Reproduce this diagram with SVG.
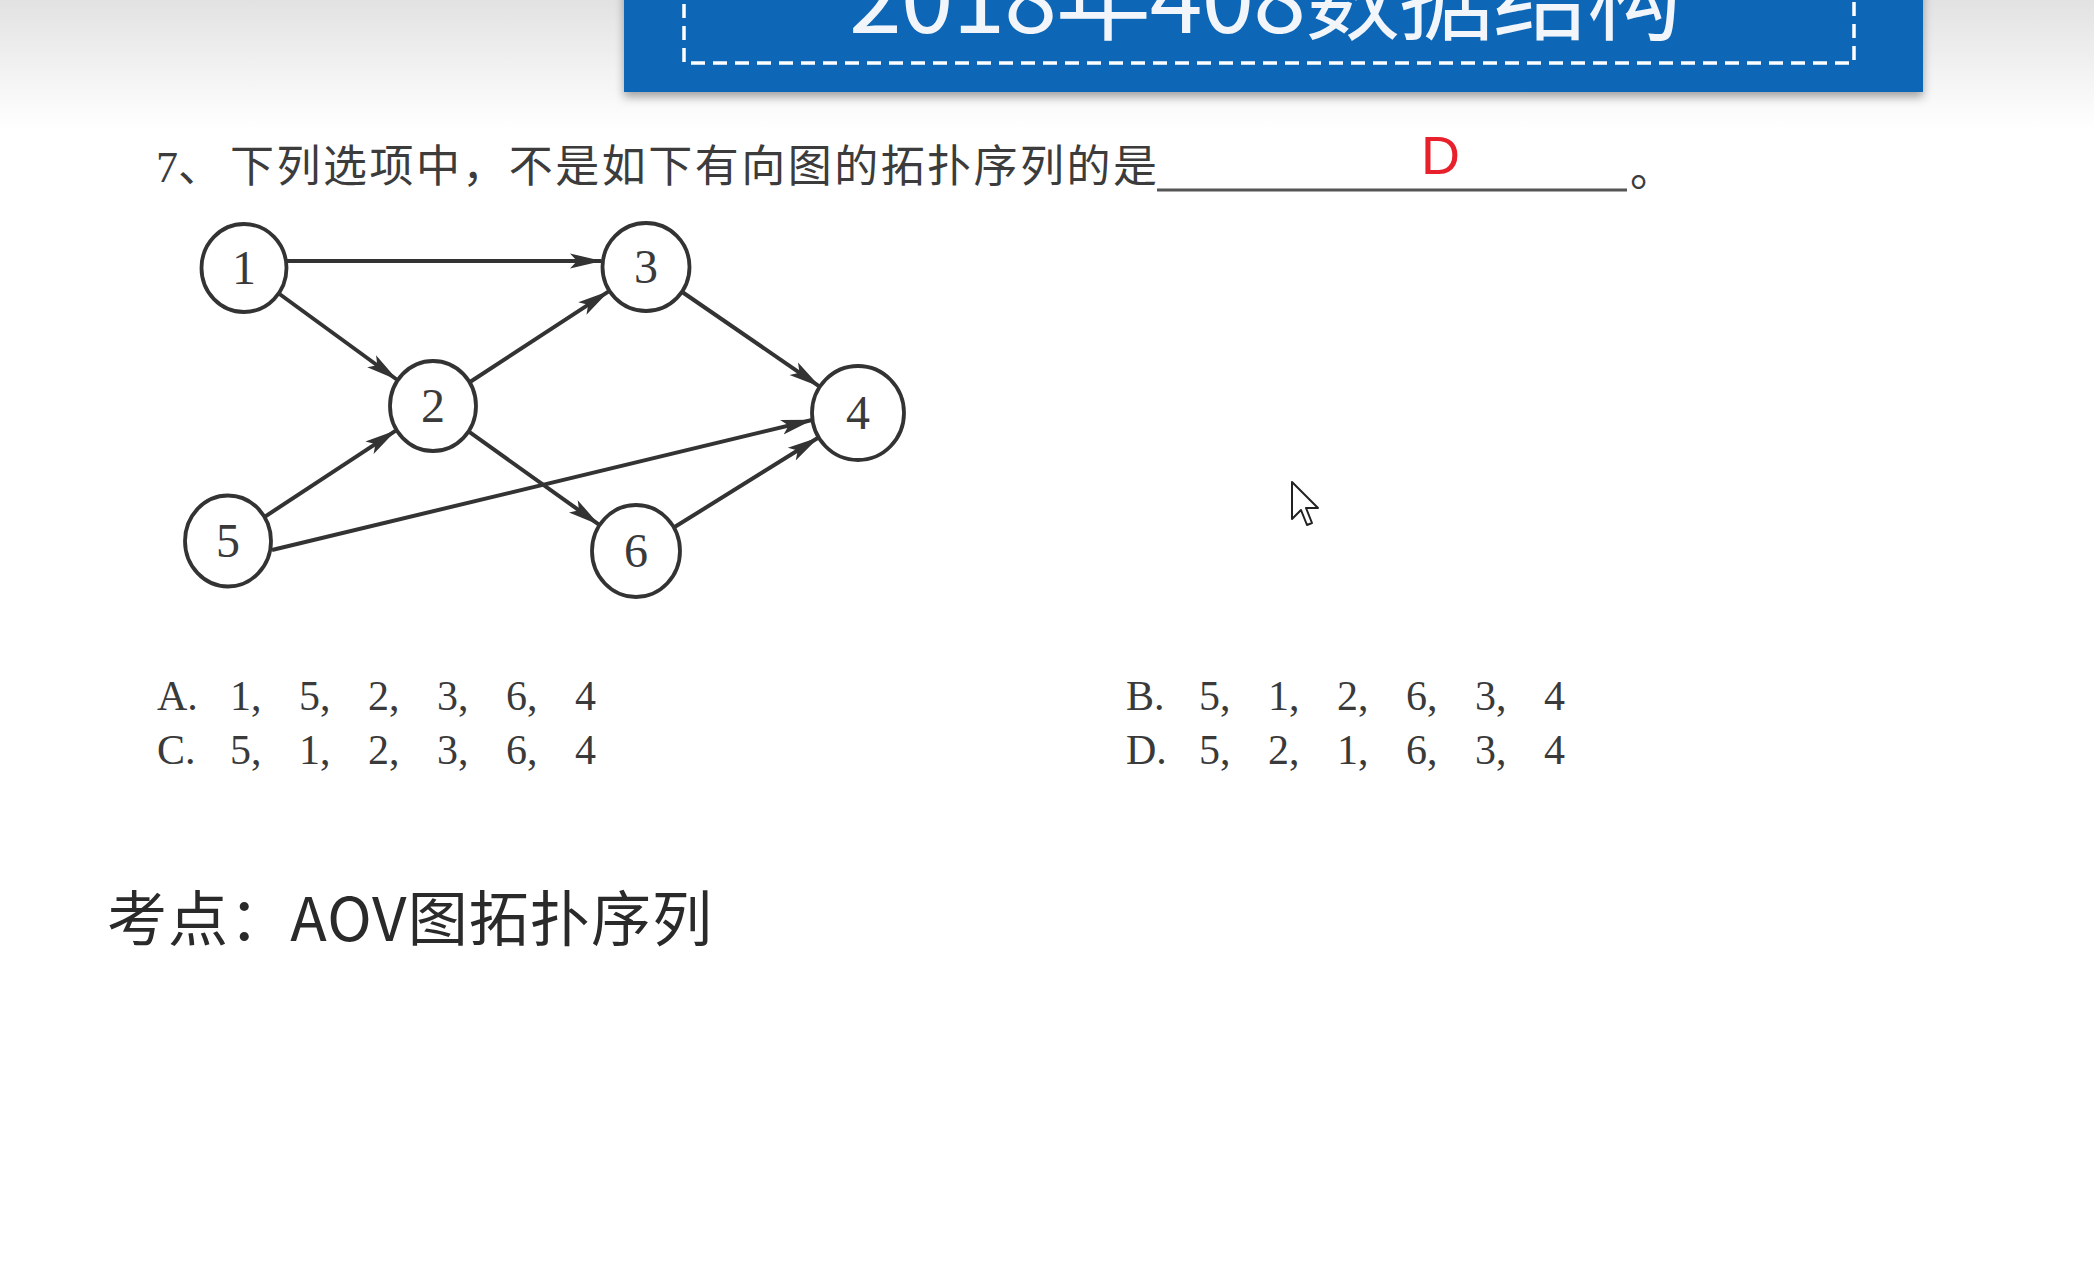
<svg xmlns="http://www.w3.org/2000/svg" width="2094" height="1275" viewBox="0 0 2094 1275">
  <defs>
    <linearGradient id="topfade" x1="0" y1="0" x2="0" y2="1">
      <stop offset="0" stop-color="#e2e2e2"/>
      <stop offset="0.6" stop-color="#f4f4f4"/>
      <stop offset="1" stop-color="#ffffff"/>
    </linearGradient>
    <filter id="shadow" x="-5%" y="-50%" width="110%" height="200%">
      <feDropShadow dx="0" dy="5" stdDeviation="5" flood-color="#000" flood-opacity="0.35"/>
    </filter>
    <marker id="arrow" viewBox="0 0 32 18" markerWidth="32" markerHeight="18" refX="31" refY="9" orient="auto" markerUnits="userSpaceOnUse">
      <path d="M0,1.5 L32,9 L0,16.5 L7,9 Z" fill="#333"/>
    </marker>
    <style>
      .node ellipse { fill: #ffffff; stroke: #333; stroke-width: 3.8; }
      .node text { font-family: "Liberation Serif", serif; font-size: 48px; fill: #3a3a3a; text-anchor: middle; }
      .edge { stroke: #333; stroke-width: 4; fill: none; marker-end: url(#arrow); }
      .q { font-family: "Liberation Serif", "Noto Sans CJK SC", serif; font-size: 44px; fill: #3c3c3c; }
      .opt { font-family: "Liberation Serif", serif; font-size: 42px; fill: #3a3a3a; }
      .kd { font-family: "Noto Sans CJK SC", "Noto Sans", sans-serif; font-size: 60px; fill: #2a2a2a; }
    </style>
  </defs>

  <rect x="0" y="0" width="2094" height="1275" fill="#ffffff"/>
  <rect x="0" y="0" width="2094" height="130" fill="url(#topfade)"/>

  <!-- header banner -->
  <g id="header">
    <rect x="624" y="-20" width="1299" height="112" fill="#0c66b6" filter="url(#shadow)"/>
    <rect x="684" y="-60" width="1170" height="123" fill="none" stroke="#ffffff" stroke-width="3.5" stroke-dasharray="14 8"/>
    <text x="849" y="33" textLength="833" lengthAdjust="spacing" font-family="Noto Sans CJK SC, Noto Sans, sans-serif" font-size="95" fill="#f2f6fa">2018年408数据结构</text>
  </g>

  <!-- question -->
  <g id="question">
    <text class="q" x="156" y="182">7</text>
    <text class="q" x="178" y="182" font-family="Noto Sans CJK SC, sans-serif">、</text>
    <text class="q" x="230" y="182" textLength="927" lengthAdjust="spacing" font-family="Noto Sans CJK SC, sans-serif">下列选项中，不是如下有向图的拓扑序列的是</text>
    <line x1="1157" y1="190" x2="1627" y2="190" stroke="#555" stroke-width="3"/>
    <text x="1630" y="186" font-family="Noto Sans CJK SC, sans-serif" font-size="44" fill="#3c3c3c">。</text>
    <text x="1421" y="174" font-family="Liberation Sans, Arial, sans-serif" font-size="54" fill="#e8202b">D</text>
  </g>

  <!-- connectors -->
  <g id="connectors">
    <line class="edge" x1="287" y1="261" x2="601" y2="261"/>
    <line class="edge" x1="279.5" y1="294" x2="396.7" y2="379.5"/>
    <line class="edge" x1="470" y1="382" x2="608.3" y2="291.6"/>
    <line class="edge" x1="682.2" y1="292" x2="819.3" y2="386.3"/>
    <line class="edge" x1="264.7" y1="516.8" x2="395.4" y2="430.8"/>
    <line class="edge" x1="272" y1="550" x2="812" y2="420"/>
    <line class="edge" x1="469.6" y1="432.2" x2="598.6" y2="524.3"/>
    <line class="edge" x1="673.4" y1="527.8" x2="818.1" y2="437.8"/>
  </g>

  <!-- nodes -->
  <g id="node1" class="node"><ellipse cx="244" cy="268" rx="42.5" ry="44"/><text x="244" y="284">1</text></g>
  <g id="node2" class="node"><ellipse cx="433" cy="406" rx="43" ry="45"/><text x="433" y="422">2</text></g>
  <g id="node3" class="node"><ellipse cx="646" cy="267" rx="43.5" ry="44"/><text x="646" y="283">3</text></g>
  <g id="node4" class="node"><ellipse cx="858" cy="413" rx="46" ry="47"/><text x="858" y="429">4</text></g>
  <g id="node5" class="node"><ellipse cx="228" cy="541" rx="43" ry="45.5"/><text x="228" y="557">5</text></g>
  <g id="node6" class="node"><ellipse cx="636" cy="551" rx="44" ry="46"/><text x="636" y="567">6</text></g>

  <!-- options -->
  <g id="options">
    <text class="opt" y="710"><tspan x="157">A. </tspan><tspan x="230">1, </tspan><tspan x="299">5, </tspan><tspan x="368">2, </tspan><tspan x="437">3, </tspan><tspan x="506">6, </tspan><tspan x="575">4</tspan></text>
    <text class="opt" y="764"><tspan x="157">C. </tspan><tspan x="230">5, </tspan><tspan x="299">1, </tspan><tspan x="368">2, </tspan><tspan x="437">3, </tspan><tspan x="506">6, </tspan><tspan x="575">4</tspan></text>
    <text class="opt" y="710"><tspan x="1126">B. </tspan><tspan x="1199">5, </tspan><tspan x="1268">1, </tspan><tspan x="1337">2, </tspan><tspan x="1406">6, </tspan><tspan x="1475">3, </tspan><tspan x="1544">4</tspan></text>
    <text class="opt" y="764"><tspan x="1126">D. </tspan><tspan x="1199">5, </tspan><tspan x="1268">2, </tspan><tspan x="1337">1, </tspan><tspan x="1406">6, </tspan><tspan x="1475">3, </tspan><tspan x="1544">4</tspan></text>
  </g>

  <!-- key point -->
  <g id="keypoint">
    <text class="kd" x="107" y="941" textLength="605" lengthAdjust="spacing">考点：AOV图拓扑序列</text>
  </g>

  <!-- mouse cursor -->
  <path d="M1292,482 L1292,519 L1301,510 L1307,525 L1312,523 L1306,508 L1318,508 Z" fill="#ffffff" stroke="#222" stroke-width="2" stroke-linejoin="round"/>
</svg>
